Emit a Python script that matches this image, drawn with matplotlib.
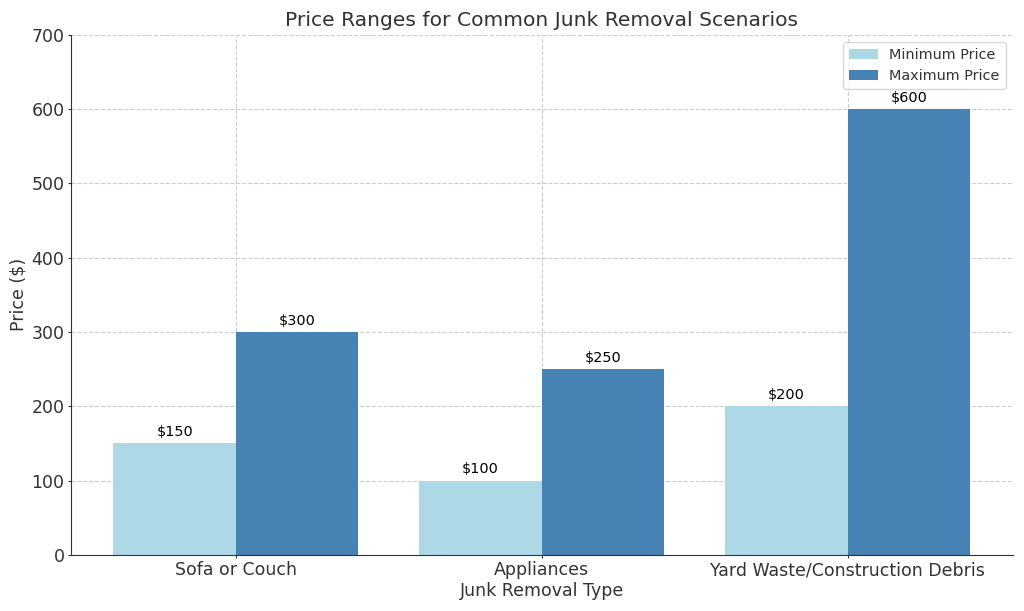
import matplotlib.pyplot as plt
import numpy as np

categories = ["Sofa or Couch", "Appliances", "Yard Waste/Construction Debris"]
min_prices = [150, 100, 200]
max_prices = [300, 250, 600]

TEXT_COLOR = "#333333"
plt.rcParams["font.family"] = "DejaVu Sans"
plt.rcParams["text.color"] = TEXT_COLOR
plt.rcParams["axes.labelcolor"] = TEXT_COLOR
plt.rcParams["xtick.color"] = TEXT_COLOR
plt.rcParams["ytick.color"] = TEXT_COLOR

fig, ax = plt.subplots(figsize=(10.24, 6.11), dpi=100)

x = np.arange(len(categories))
width = 0.4

bars_min = ax.bar(x - width / 2, min_prices, width, label="Minimum Price", color="lightblue")
bars_max = ax.bar(x + width / 2, max_prices, width, label="Maximum Price", color="steelblue")

# value labels above each bar
for bars in (bars_min, bars_max):
    for bar in bars:
        h = bar.get_height()
        ax.annotate(f"${h:.0f}", xy=(bar.get_x() + bar.get_width() / 2, h),
                    xytext=(0, 3), textcoords="offset points",
                    ha="center", va="bottom", fontsize=10.4, color="black")

ax.set_title("Price Ranges for Common Junk Removal Scenarios", fontsize=14.6)
ax.set_xlabel("Junk Removal Type", fontsize=12.5, labelpad=2)
ax.set_ylabel("Price ($)", fontsize=12.5, labelpad=3)
ax.set_xticks(x)
ax.set_xticklabels(categories, fontsize=12.5)
ax.tick_params(axis="y", labelsize=12.5)
ax.tick_params(length=2.5, pad=2)
ax.set_ylim(0, 700)

ax.grid(True, linestyle="--", color="#cccccc", linewidth=0.8)
ax.set_axisbelow(True)
for side in ("top", "right"):
    ax.spines[side].set_visible(False)
for side in ("left", "bottom"):
    ax.spines[side].set_color(TEXT_COLOR)

ax.legend(loc="upper right", fontsize=10.4)

fig.subplots_adjust(left=0.069, right=0.989, top=0.943, bottom=0.092)
fig.savefig("out.png")
